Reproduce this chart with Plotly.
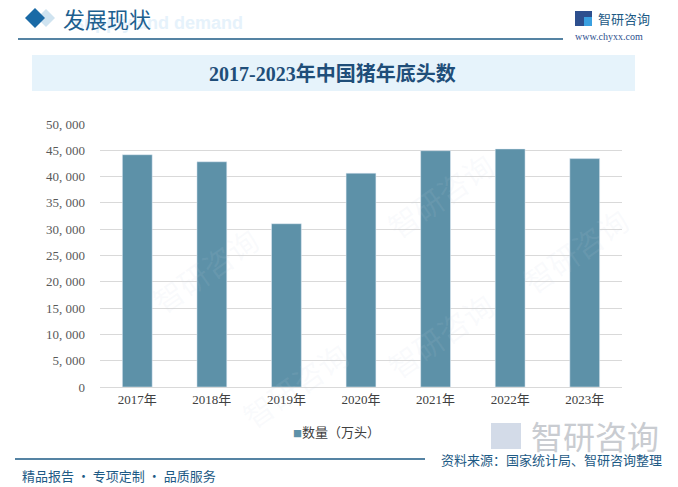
import plotly.graph_objects as go

categories = ["2017年", "2018年", "2019年", "2020年", "2021年", "2022年", "2023年"]
values = [44159, 42817, 31041, 40650, 44922, 45256, 43422]
series_name = "数量（万头）"
tick_vals = [0, 5000, 10000, 15000, 20000, 25000, 30000, 35000, 40000, 45000, 50000]
tick_text = ["0", "5, 000", "10, 000", "15, 000", "20, 000", "25, 000", "30, 000",
             "35, 000", "40, 000", "45, 000", "50, 000"]

W, H = 678, 487
L, R, T, B = 100, 622, 124, 387
BAR = "#5d91a8"
DARK = "#1d5a85"
CJK = "Noto Sans CJK SC"
NUM = "Liberation Serif, Noto Sans CJK SC"

fig = go.Figure()
fig.add_trace(go.Bar(x=categories, y=values, name=series_name, marker_color=BAR,
                     width=0.4, showlegend=False))


def px(x):
    return (x - L) / (R - L)


def py(y):
    return (B - y) / (B - T)


shapes = []
annotations = []

# title band
shapes.append(dict(type="rect", xref="paper", yref="paper", x0=px(32), x1=px(635),
                   y0=py(91), y1=py(55), fillcolor="#e6f3fb", line_width=0, layer="below"))
# header line
shapes.append(dict(type="line", xref="paper", yref="paper", x0=px(18), x1=px(563),
                   y0=py(39), y1=py(39), line=dict(color=DARK, width=1.5)))
# footer line
shapes.append(dict(type="line", xref="paper", yref="paper", x0=px(15), x1=px(425),
                   y0=py(459), y1=py(459), line=dict(color=DARK, width=1.5)))


def diamond(cx, cy, r, color):
    pts = [(cx, cy - r), (cx + r, cy), (cx, cy + r), (cx - r, cy)]
    path = "M " + " L ".join(f"{px(x)},{py(y)}" for x, y in pts) + " Z"
    return dict(type="path", xref="paper", yref="paper", path=path, fillcolor=color, line_width=0)


shapes.append(diamond(46, 18, 9, "#cfe3f0"))
shapes.append(diamond(35, 18, 10, "#1a6aa6"))

# logo squares (top right)
shapes.append(dict(type="rect", xref="paper", yref="paper", x0=px(575), x1=px(592),
                   y0=py(26), y1=py(11), fillcolor="#2d4f8e", line_width=0))
shapes.append(dict(type="rect", xref="paper", yref="paper", x0=px(584), x1=px(592),
                   y0=py(26), y1=py(17), fillcolor="#3aa0e0", line_width=0))

# header texts
annotations.append(dict(text="<b>supply and demand</b>", x=px(72), y=py(23), xref="paper", yref="paper",
                        xanchor="left", yanchor="middle", showarrow=False,
                        font=dict(family="Liberation Sans", size=18, color="#e6f2fb")))
annotations.append(dict(text="发展现状", x=px(61), y=py(18), xref="paper", yref="paper",
                        xanchor="left", yanchor="middle", showarrow=False,
                        font=dict(family=CJK, size=22, color="#1d5f8f")))
annotations.append(dict(text="智研咨询", x=px(596), y=py(18), xref="paper", yref="paper",
                        xanchor="left", yanchor="middle", showarrow=False,
                        font=dict(family=CJK, size=13, color="#1d5a85")))
annotations.append(dict(text="www.chyxx.com", x=px(573), y=py(37), xref="paper", yref="paper",
                        xanchor="left", yanchor="middle", showarrow=False,
                        font=dict(family="Liberation Serif", size=10, color="#2d4f8e")))
# title
annotations.append(dict(text="<b>2017-2023年中国猪年底头数</b>", x=px(332), y=py(74), xref="paper",
                        yref="paper", xanchor="center", yanchor="middle", showarrow=False,
                        font=dict(family="Liberation Serif, " + CJK, size=20, color="#1f4e79")))
# legend-like label
annotations.append(dict(text=f"<span style='color:{BAR};font-size:9px'>■</span>{series_name}",
                        x=px(336), y=py(431), xref="paper", yref="paper",
                        xanchor="center", yanchor="middle", showarrow=False,
                        font=dict(family=CJK, size=13, color="#404040")))
# bottom-right faint logo
shapes.append(dict(type="rect", xref="paper", yref="paper", x0=px(491), x1=px(521),
                   y0=py(449), y1=py(423), fillcolor="#d3dbe8", line_width=0, layer="below"))
annotations.append(dict(text="智研咨询", x=px(661), y=py(435), xref="paper", yref="paper",
                        xanchor="right", yanchor="middle", showarrow=False,
                        font=dict(family=CJK, size=32, color="#c9ccd1")))
# footer
annotations.append(dict(text="精品报告 · 专项定制 · 品质服务", x=px(20), y=py(475), xref="paper",
                        yref="paper", xanchor="left", yanchor="middle", showarrow=False,
                        font=dict(family=CJK, size=13, color="#1d5a85")))
annotations.append(dict(text="资料来源：国家统计局、智研咨询整理", x=px(664), y=py(459), xref="paper",
                        yref="paper", xanchor="right", yanchor="middle", showarrow=False,
                        font=dict(family=CJK, size=13, color="#1d5a85")))

# faint watermarks
for (wx, wy) in [(140, 270), (440, 140), (440, 390), (230, 440), (640, 250)]:
    annotations.append(dict(text="智研咨询", x=px(wx), y=py(wy), xref="paper", yref="paper",
                            showarrow=False, textangle=-35,
                            font=dict(family=CJK, size=30, color="rgba(200,210,225,0.10)")))

fig.update_layout(
    width=W, height=H,
    margin=dict(l=L, r=W - R, t=T, b=H - B),
    paper_bgcolor="white", plot_bgcolor="white",
    bargap=0.6,
    shapes=shapes, annotations=annotations,
    showlegend=False,
    xaxis=dict(showgrid=False, showline=True, linecolor="#d9d9d9", linewidth=1,
               tickfont=dict(family=NUM, size=13, color="#404040"), ticks=""),
    yaxis=dict(range=[0, 50000], tickvals=tick_vals, ticktext=tick_text,
               showgrid=True, gridcolor="#d9d9d9", gridwidth=1, zeroline=False,
               tickfont=dict(family=NUM, size=13, color="#595959"), ticks="", ticklen=0),
)
fig.update_yaxes(ticklabelstandoff=14)

fig.write_html("out.html", config={"displayModeBar": False},
               post_script="document.body.style.margin='0px';document.body.style.overflow='hidden';")
